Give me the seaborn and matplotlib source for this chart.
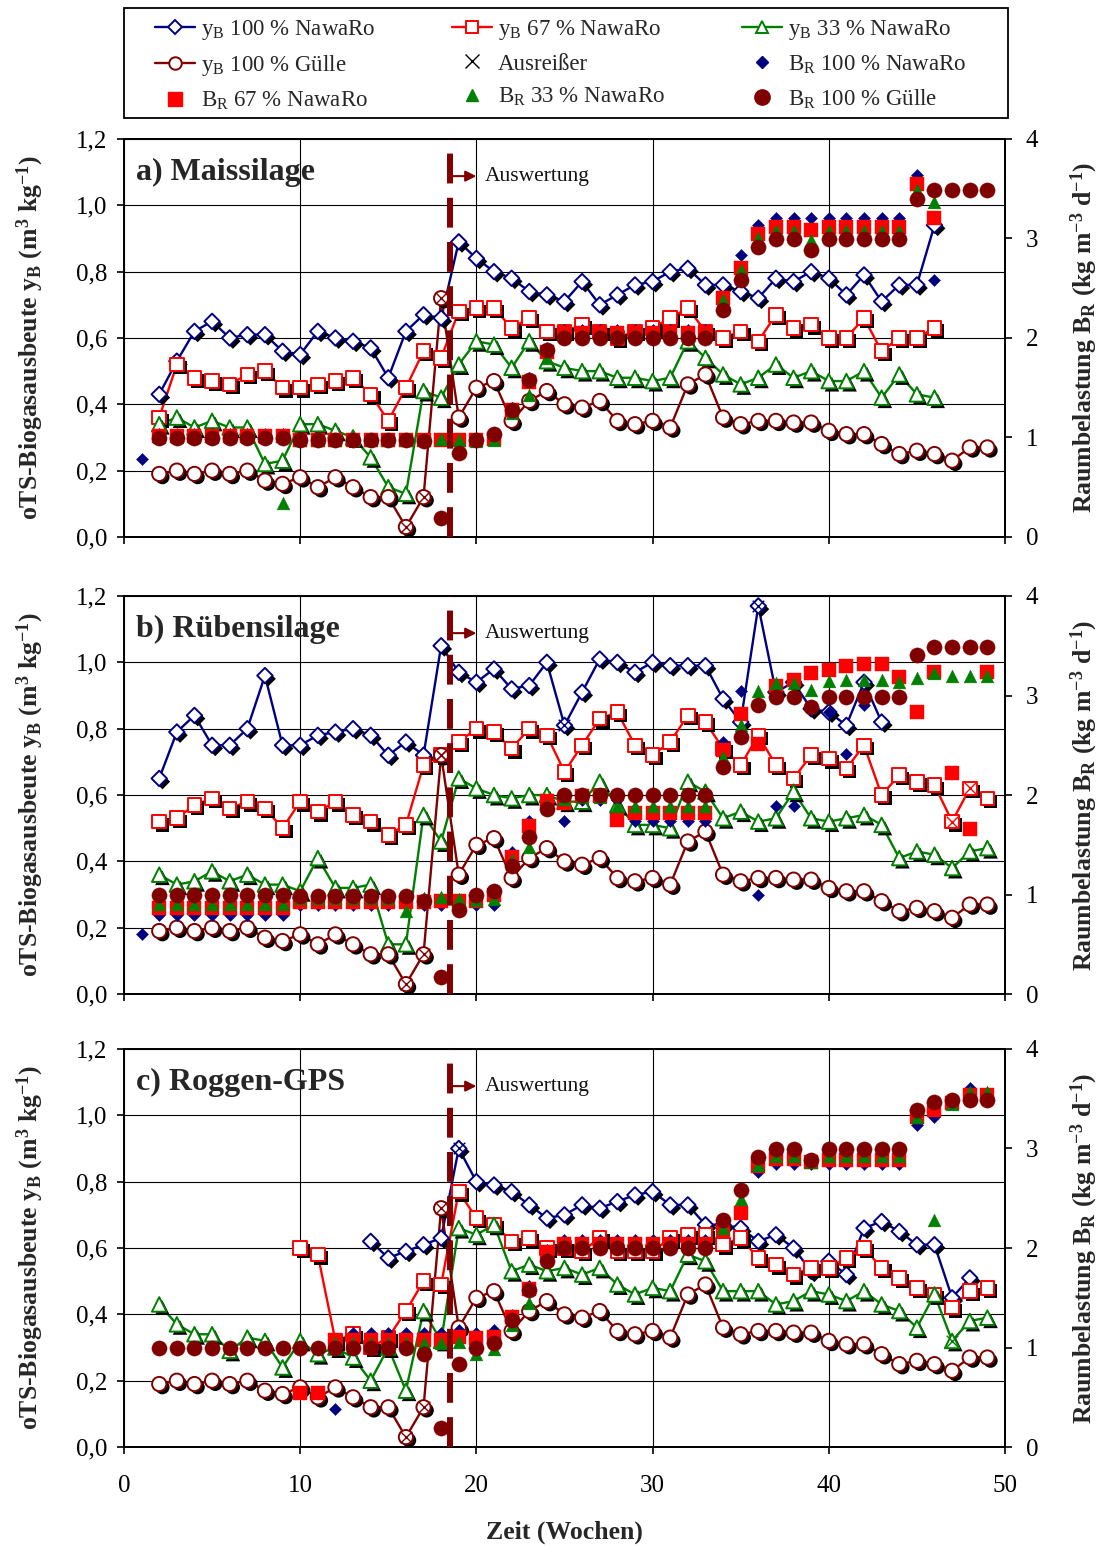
import numpy as np
import pandas as pd
import matplotlib
matplotlib.use('Agg')
import matplotlib.pyplot as plt
import matplotlib.patheffects as pe
from matplotlib.lines import Line2D
from matplotlib.patches import Rectangle
from matplotlib.ticker import FuncFormatter
import seaborn as sns

N = np.nan
weeks = list(range(1, 50))

# ---------------- y_B (left axis) ----------------
yB_guelle = [N, 0.19, 0.20, 0.19, 0.20, 0.19, 0.20, 0.17, 0.16, 0.18, 0.15, 0.18, 0.15, 0.12, 0.12, 0.03, 0.12, 0.72,
             0.36, 0.45, 0.47, 0.35, 0.41, 0.44, 0.40, 0.39, 0.41, 0.35, 0.34, 0.35, 0.33, 0.46, 0.49,
             0.36, 0.34, 0.35, 0.35, 0.345, 0.345, 0.32, 0.31, 0.31, 0.28, 0.25, 0.26, 0.25, 0.23, 0.27, 0.27]

a_yB100 = [N, 0.43, 0.53, 0.62, 0.65, 0.60, 0.61, 0.61, 0.56, 0.55, 0.62, 0.60, 0.59, 0.57, 0.48, 0.62, 0.67, 0.66,
           0.89, 0.84, 0.80, 0.78, 0.74, 0.73, 0.71, 0.77, 0.70, 0.73, 0.76, 0.77, 0.80, 0.81, 0.76,
           0.76, 0.74, 0.72, 0.78, 0.77, 0.80, 0.78, 0.73, 0.79, 0.71, 0.76, 0.76, 0.94, N, N, N]
a_yB67 = [N, 0.36, 0.52, 0.48, 0.47, 0.46, 0.49, 0.50, 0.45, 0.45, 0.46, 0.47, 0.48, 0.43, 0.35, 0.45, 0.56, 0.54,
          0.68, 0.69, 0.69, 0.63, 0.66, 0.62, 0.62, 0.64, 0.62, 0.60, 0.62, 0.63, 0.66, 0.69, 0.62,
          0.60, 0.62, 0.59, 0.67, 0.63, 0.64, 0.60, 0.60, 0.66, 0.56, 0.60, 0.60, 0.63, N, N, N]
a_yB33 = [N, 0.34, 0.36, 0.33, 0.35, 0.33, 0.33, 0.22, 0.23, 0.34, 0.34, 0.32, 0.30, 0.24, 0.15, 0.13, 0.44, 0.42,
          0.52, 0.59, 0.58, 0.51, 0.59, 0.53, 0.51, 0.50, 0.50, 0.48, 0.48, 0.47, 0.48, 0.59, 0.54,
          0.49, 0.46, 0.48, 0.52, 0.48, 0.50, 0.47, 0.47, 0.50, 0.42, 0.49, 0.43, 0.42, N, N, N]

b_yB100 = [N, 0.65, 0.79, 0.84, 0.75, 0.75, 0.80, 0.96, 0.75, 0.75, 0.78, 0.79, 0.80, 0.78, 0.72, 0.76, 0.72, 1.05,
           0.97, 0.94, 0.98, 0.92, 0.93, 1.00, 0.81, 0.91, 1.01, 1.00, 0.97, 1.00, 0.99, 0.99, 0.99,
           0.89, 0.82, 1.17, 0.91, 0.94, 0.86, 0.85, 0.81, 0.94, 0.82, N, N, N, N, N, N]
b_yB67 = [N, 0.52, 0.53, 0.57, 0.59, 0.56, 0.58, 0.56, 0.50, 0.58, 0.55, 0.58, 0.54, 0.52, 0.48, 0.51, 0.69, 0.72,
          0.76, 0.80, 0.79, 0.74, 0.80, 0.78, 0.67, 0.75, 0.83, 0.85, 0.75, 0.72, 0.76, 0.84, 0.82,
          0.74, 0.69, 0.78, 0.69, 0.65, 0.72, 0.71, 0.68, 0.75, 0.60, 0.66, 0.64, 0.63, 0.52, 0.62, 0.59]
b_yB33 = [N, 0.36, 0.33, 0.34, 0.37, 0.34, 0.36, 0.33, 0.33, 0.31, 0.41, 0.32, 0.32, 0.33, 0.15, 0.15, 0.54, 0.46,
          0.65, 0.62, 0.60, 0.59, 0.60, 0.60, 0.58, 0.58, 0.64, 0.57, 0.51, 0.51, 0.50, 0.64, 0.61,
          0.53, 0.55, 0.52, 0.53, 0.61, 0.53, 0.52, 0.53, 0.54, 0.51, 0.41, 0.43, 0.42, 0.38, 0.43, 0.44]

c_yB100 = [N, N, N, N, N, N, N, N, N, N, N, N, N, 0.62, 0.57, 0.59, 0.61, 0.63,
           0.90, 0.80, 0.79, 0.77, 0.73, 0.69, 0.70, 0.73, 0.72, 0.74, 0.76, 0.77, 0.73, 0.73, 0.67,
           0.67, 0.66, 0.62, 0.64, 0.60, 0.53, 0.56, 0.52, 0.66, 0.68, 0.65, 0.61, 0.61, 0.45, 0.51, N]
c_yB67 = [N, N, N, N, N, N, N, N, N, 0.60, 0.58, 0.32, 0.34, 0.30, 0.33, 0.41, 0.50, 0.49,
          0.77, 0.69, 0.67, 0.62, 0.63, 0.60, 0.60, 0.59, 0.63, 0.59, 0.59, 0.59, 0.63, 0.64, 0.64,
          0.61, 0.63, 0.57, 0.55, 0.52, 0.54, 0.54, 0.57, 0.60, 0.54, 0.51, 0.48, 0.46, 0.42, 0.47, 0.48]
c_yB33 = [N, 0.43, 0.37, 0.34, 0.34, 0.29, 0.33, 0.32, 0.24, 0.32, 0.28, 0.30, 0.27, 0.20, 0.30, 0.17, 0.41, 0.32,
          0.66, 0.64, 0.67, 0.53, 0.55, 0.53, 0.54, 0.52, 0.54, 0.49, 0.46, 0.48, 0.47, 0.58, 0.56,
          0.47, 0.47, 0.47, 0.43, 0.44, 0.47, 0.46, 0.44, 0.47, 0.43, 0.41, 0.36, 0.46, 0.32, 0.38, 0.39]

# outliers (Ausreißer), weeks per series
out_guelle = [16, 17, 18]
b_out100 = [25, 36]
b_out67 = [18, 47, 48]
c_out100 = [19]
c_out33 = [47]

# ---------------- B_R (right axis) ----------------
a_BR100 = [0.78, 1.03, 1.03, 1.03, 1.03, 1.03, 1.03, 1.03, 1.03, 0.98, 0.98, 0.98, 0.98, 0.98, 0.98, 0.98, 0.98, 0.98,
           0.97, 0.97, 0.97, 1.30, 1.60, 1.90, 2.08, 2.08, 2.08, 2.08, 2.08, 2.08, 2.08, 2.08, 2.08,
           2.40, 2.83, 3.14, 3.21, 3.21, 3.21, 3.21, 3.21, 3.21, 3.21, 3.21, 3.64, 2.58, N, N, N]
a_BR67 = [N, 1.01, 1.01, 1.01, 1.01, 1.01, 1.01, 1.01, 1.01, 0.97, 0.97, 0.97, 0.97, 0.97, 0.97, 0.97, 0.97, 0.97,
          0.97, 0.97, 0.98, 1.28, 1.56, 1.86, 2.05, 2.05, 2.05, 2.05, 2.05, 2.05, 2.05, 2.05, 2.05,
          2.40, 2.70, 3.04, 3.12, 3.12, 3.09, 3.12, 3.12, 3.12, 3.12, 3.12, 3.55, 3.21, N, N, N]
a_BR33 = [N, 1.00, 1.00, 1.00, 1.00, 1.00, 1.00, 1.00, 0.34, 0.97, 0.97, 0.97, 0.97, 0.97, 0.97, 0.97, 0.97, 0.98,
          0.97, 0.96, 0.97, 1.25, 1.43, 1.80, 2.03, 2.03, 2.03, 2.03, 2.03, 2.03, 2.03, 2.03, 2.03,
          2.38, 2.68, 3.00, 3.08, 3.08, 2.98, 3.08, 3.08, 3.08, 3.08, 3.08, 3.49, 3.37, N, N, N]
a_BRG = [N, 0.99, 0.99, 0.99, 0.99, 0.99, 0.99, 0.99, 0.99, 0.97, 0.97, 0.97, 0.97, 0.97, 0.97, 0.97, 0.96, 0.19,
         0.84, 0.97, 1.03, 1.28, 1.58, 1.88, 2.00, 2.00, 2.00, 2.00, 2.00, 2.00, 2.00, 2.00, 2.00,
         2.28, 2.58, 2.91, 2.99, 2.99, 2.88, 2.99, 2.99, 2.99, 2.99, 2.99, 3.40, 3.49, 3.49, 3.49, 3.49]

b_BR100 = [0.60, 0.79, 0.79, 0.79, 0.79, 0.79, 0.79, 0.79, 0.79, 0.90, 0.90, 0.90, 0.90, 0.90, 0.90, 0.90, 0.90, 0.90,
           0.90, 0.90, 0.90, 1.43, 1.74, 1.90, 1.74, 1.95, 1.95, 1.95, 1.74, 1.74, 1.74, 1.74, 1.74,
           2.53, 3.05, 1.00, 1.89, 1.89, N, 2.83, 2.41, 2.90, N, N, N, N, N, N, N]
b_BR67 = [N, 0.86, 0.86, 0.86, 0.86, 0.86, 0.86, 0.86, 0.86, 0.93, 0.93, 0.93, 0.93, 0.93, 0.93, 0.93, 0.93, 0.94,
          0.94, 0.94, 1.00, 1.38, 1.69, 1.94, 1.92, 1.99, 1.99, 1.75, 1.82, 1.82, 1.82, 1.82, 1.82,
          2.45, 2.81, 2.51, 3.10, 3.16, 3.23, 3.26, 3.30, 3.32, 3.32, 3.19, 2.83, 3.24, 2.22, 1.66, 3.24]
b_BR33 = [N, 0.91, 0.91, 0.91, 0.91, 0.91, 0.91, 0.91, 0.91, 0.97, 0.97, 0.97, 0.97, 0.97, 0.97, 0.83, 0.97, 0.98,
          0.96, 0.95, 0.96, 1.35, 1.48, 1.90, 1.96, 1.98, 1.98, 1.89, 1.89, 1.89, 1.89, 1.89, 1.89,
          2.38, 2.70, 3.05, 3.13, 3.13, 3.06, 3.15, 3.16, 3.16, 3.16, 3.14, 3.18, 3.23, 3.20, 3.20, 3.20]
b_BRG = [N, 1.00, 1.00, 1.00, 1.00, 1.00, 1.00, 1.00, 1.00, 0.99, 0.99, 0.99, 0.99, 0.99, 0.99, 0.99, 0.94, 0.17,
         0.84, 1.00, 1.04, 1.29, 1.58, 1.86, 2.00, 2.00, 2.00, 2.00, 2.00, 2.00, 2.00, 2.00, 2.00,
         2.28, 2.58, 2.90, 2.99, 2.99, 2.88, 2.99, 2.99, 2.99, 2.99, 2.99, 3.41, 3.49, 3.49, 3.49, 3.49]

c_BR100 = [N, N, N, N, N, N, N, N, N, N, N, 0.38, 1.15, 1.15, 1.15, 1.15, 1.15, 1.15,
           1.18, 1.15, 1.18, 1.33, 1.62, 1.98, 2.08, 2.08, 2.08, 2.08, 2.08, 2.08, 2.08, 2.08, 2.08,
           2.20, 2.40, 2.76, 2.84, 2.84, 2.84, 2.84, 2.84, 2.84, 2.84, 2.84, 3.24, 3.32, 3.45, 3.61, N]
c_BR67 = [N, N, N, N, N, N, N, N, N, 0.54, 0.54, 1.08, 1.08, 1.08, 1.08, 1.08, 1.08, 1.08,
          1.11, 1.10, 1.11, 1.31, 1.59, 1.96, 2.04, 2.04, 2.04, 2.04, 2.04, 2.04, 2.04, 2.04, 2.04,
          2.17, 2.35, 2.82, 2.89, 2.89, 2.86, 2.88, 2.88, 2.88, 2.88, 2.88, 3.32, 3.39, 3.46, 3.54, 3.54]
c_BR33 = [N, N, N, N, N, N, N, N, N, N, N, 1.05, 1.05, 1.05, 1.05, 1.05, 1.05, 1.05,
          1.06, 0.93, 0.99, 1.23, 1.45, 1.90, 2.03, 2.03, 2.03, 2.03, 2.03, 2.03, 2.03, 2.03, 2.03,
          2.20, 2.49, 2.83, 2.92, 2.92, 2.86, 2.92, 2.92, 2.92, 2.92, 2.92, 3.32, 2.28, 3.45, 3.57, 3.57]
c_BRG = [N, 1.00, 1.00, 1.00, 1.00, 1.00, 1.00, 1.00, 1.00, 1.00, 1.00, 1.00, 1.00, 1.00, 1.00, 1.00, 0.94, 0.19,
         0.83, 1.00, 1.05, 1.28, 1.58, 1.87, 2.00, 2.00, 2.00, 2.00, 2.00, 2.00, 2.00, 2.00, 2.00,
         2.28, 2.58, 2.91, 2.99, 2.99, 2.88, 2.99, 2.99, 2.99, 2.99, 2.99, 3.39, 3.47, 3.49, 3.49, 3.49]

titles = ['a) Maissilage', 'b) Rübensilage', 'c) Roggen-GPS']
x_ticks = [0, 10, 20, 30, 40, 50]
y_ticks = [0.0, 0.2, 0.4, 0.6, 0.8, 1.0, 1.2]
br_ticks = [0, 1, 2, 3, 4]

BLUE, RED, GREEN, BROWN = '#000080', '#FF0000', '#008000', '#800000'

# ---------------- style ----------------
sns.set_theme(style='ticks')
plt.rcParams['font.family'] = ['Liberation Serif', 'DejaVu Serif']
plt.rcParams['font.weight'] = 'normal'
plt.rcParams['mathtext.fontset'] = 'custom'
plt.rcParams['mathtext.rm'] = 'Liberation Serif'
plt.rcParams['mathtext.bf'] = 'Liberation Serif:bold'
plt.rcParams['mathtext.it'] = 'Liberation Serif:italic'

fig = plt.figure(figsize=(11.04, 15.46), dpi=100)
L, W = 0.1123, 0.798
rects = [(0.6527, 0.2574), (0.3570, 0.2575), (0.0640, 0.2575)]

shadow = [pe.SimplePatchShadow(offset=(2.3, -2.3), shadow_rgbFace='black', alpha=1.0), pe.Normal()]
comma = FuncFormatter(lambda v, p: f"{v:.1f}".replace('.', ','))

series_style = {
    '100N': (BLUE, 'D', 62),
    '67N': (RED, 's', 95),
    '33N': (GREEN, '^', 110),
    'G': (BROWN, 'o', 105),
}
br_style = {
    '100N': (BLUE, 'D', 38),
    '67N': (RED, 's', 100),
    '33N': (GREEN, '^', 85),
    'G': (BROWN, 'o', 120),
}

panels = [
    dict(yb={'100N': a_yB100, '67N': a_yB67, '33N': a_yB33, 'G': yB_guelle},
         br={'100N': a_BR100, '67N': a_BR67, '33N': a_BR33, 'G': a_BRG},
         out={'G': out_guelle}),
    dict(yb={'100N': b_yB100, '67N': b_yB67, '33N': b_yB33, 'G': yB_guelle},
         br={'100N': b_BR100, '67N': b_BR67, '33N': b_BR33, 'G': b_BRG},
         out={'G': out_guelle, '100N': b_out100, '67N': b_out67}),
    dict(yb={'100N': c_yB100, '67N': c_yB67, '33N': c_yB33, 'G': yB_guelle},
         br={'100N': c_BR100, '67N': c_BR67, '33N': c_BR33, 'G': c_BRG},
         out={'G': out_guelle, '100N': c_out100, '33N': c_out33}),
]

for i, (pdata, (bot, h)) in enumerate(zip(panels, rects)):
    ax = fig.add_axes([L, bot, W, h])
    ax2 = ax.twinx()

    for key in ['100N', '67N', '33N', 'G']:
        col, mk, s = series_style[key]
        df = pd.DataFrame({'Woche': weeks, 'yB': pdata['yb'][key]}).dropna()
        sns.lineplot(data=df, x='Woche', y='yB', ax=ax, color=col, lw=1.7,
                     estimator=None, sort=False, legend=False, zorder=2)
        sns.scatterplot(data=df, x='Woche', y='yB', ax=ax, marker=mk, s=s,
                        color='white', edgecolor=col, linewidth=1.4, legend=False, zorder=3)
        ax.collections[-1].set_path_effects(shadow)
        if key in pdata['out']:
            od = df[df['Woche'].isin(pdata['out'][key])]
            sns.scatterplot(data=od, x='Woche', y='yB', ax=ax, marker='x', s=70,
                            color=col, linewidth=1.0, legend=False, zorder=4)

    for key in ['100N', '67N', '33N', 'G']:
        col, mk, s = br_style[key]
        df = pd.DataFrame({'Woche': weeks, 'BR': pdata['br'][key]}).dropna()
        sns.scatterplot(data=df, x='Woche', y='BR', ax=ax2, marker=mk, s=s,
                        color=col, edgecolor=col, linewidth=0.3, legend=False, zorder=2)

    ax2.axvline(18.5, color=BROWN, lw=4.3, ls=(0, (5, 2.4)), zorder=6)

    ax.annotate('', xy=(20.0, 1.088), xytext=(18.5, 1.088),
                arrowprops=dict(arrowstyle='-|>', color=BROWN, lw=1.5, mutation_scale=16,
                                shrinkA=0, shrinkB=0))
    ax.text(20.5, 1.088, 'Auswertung', fontsize=15.5, va='center', ha='left', color='#111111')
    ax.text(0.0136, 0.915, titles[i], transform=ax.transAxes, fontsize=23,
            fontweight='bold', va='center', ha='left')

    ax.set_xlim(0, 50)
    ax.set_ylim(0, 1.2)
    ax2.set_ylim(0, 4)
    ax.set_xticks(x_ticks)
    ax.set_yticks(y_ticks)
    ax2.set_yticks(br_ticks)
    ax.yaxis.set_major_formatter(comma)
    ax.grid(True, color='black', lw=0.8)
    ax.set_axisbelow(True)
    ax2.grid(False)

    for a in (ax, ax2):
        for sp in a.spines.values():
            sp.set_visible(True)
            sp.set_color('black')
            sp.set_linewidth(1.3)
    ax.tick_params(axis='both', direction='out', length=5, width=1.2, labelsize=18,
                   colors='black', pad=7)
    ax.tick_params(axis='x', pad=15)
    ax2.tick_params(axis='y', direction='out', length=5, width=1.2, labelsize=18,
                    colors='black', pad=10)

    ax.set_ylabel(r'oTS-Biogasausbeute y$_\mathbf{B}$ (m$^\mathbf{3}$ kg$^\mathbf{-1}$)',
                  fontsize=18.5, fontweight='bold')
    ax.yaxis.set_label_coords(-0.089, 0.5)
    ax2.set_ylabel(r'Raumbelastung B$_\mathbf{R}$ (kg m$^\mathbf{-3}$ d$^\mathbf{-1}$)',
                   fontsize=18.5, fontweight='bold')
    ax2.yaxis.set_label_coords(1.072, 0.5)

    if i < 2:
        ax.tick_params(axis='x', labelbottom=False)
        ax.set_xlabel('')
    else:
        ax.set_xlabel('Zeit (Wochen)', fontsize=18.5, fontweight='bold', labelpad=17)

# ---------------- legend ----------------
lw = 1.7
h_yB100 = Line2D([], [], color=BLUE, lw=lw, marker='D', ms=7, mfc='white', mec=BLUE, mew=1.4)
h_yB67 = Line2D([], [], color=RED, lw=lw, marker='s', ms=9, mfc='white', mec=RED, mew=1.4)
h_yB33 = Line2D([], [], color=GREEN, lw=lw, marker='^', ms=9, mfc='white', mec=GREEN, mew=1.4)
h_yBG = Line2D([], [], color=BROWN, lw=lw, marker='o', ms=9, mfc='white', mec=BROWN, mew=1.4)
h_out = Line2D([], [], ls='none', marker='x', ms=10, color='black', mew=1.0)
h_BR100 = Line2D([], [], ls='none', marker='D', ms=6, color=BLUE)
h_BR67 = Line2D([], [], ls='none', marker='s', ms=10, color=RED)
h_BR33 = Line2D([], [], ls='none', marker='^', ms=9, color=GREEN)
h_BRG = Line2D([], [], ls='none', marker='o', ms=11, color=BROWN)

handles = [h_yB100, h_yBG, h_BR67, h_yB67, h_out, h_BR33, h_yB33, h_BR100, h_BRG]
labels = [r'y$_\mathrm{B}$ 100 % NawaRo', r'y$_\mathrm{B}$ 100 % Gülle', r'B$_\mathrm{R}$ 67 % NawaRo',
          r'y$_\mathrm{B}$ 67 % NawaRo', 'Ausreißer', r'B$_\mathrm{R}$ 33 % NawaRo',
          r'y$_\mathrm{B}$ 33 % NawaRo', r'B$_\mathrm{R}$ 100 % NawaRo', r'B$_\mathrm{R}$ 100 % Gülle']
fig.add_artist(Rectangle((0.1123, 0.9237), 0.8007, 0.0711, transform=fig.transFigure,
                         fill=False, edgecolor='black', lw=1.3))
leg = fig.legend(handles, labels, ncol=3, loc='upper left',
                 bbox_to_anchor=(155 / 1104, 1 - 18 / 1546),
                 frameon=False,
                 prop={'family': 'Liberation Serif', 'weight': 'normal', 'size': 16.5},
                 handlelength=1.75, handletextpad=0.25, labelspacing=0.5,
                 borderaxespad=0, borderpad=0, columnspacing=3.35)

fig.savefig('out.png', dpi=100)
